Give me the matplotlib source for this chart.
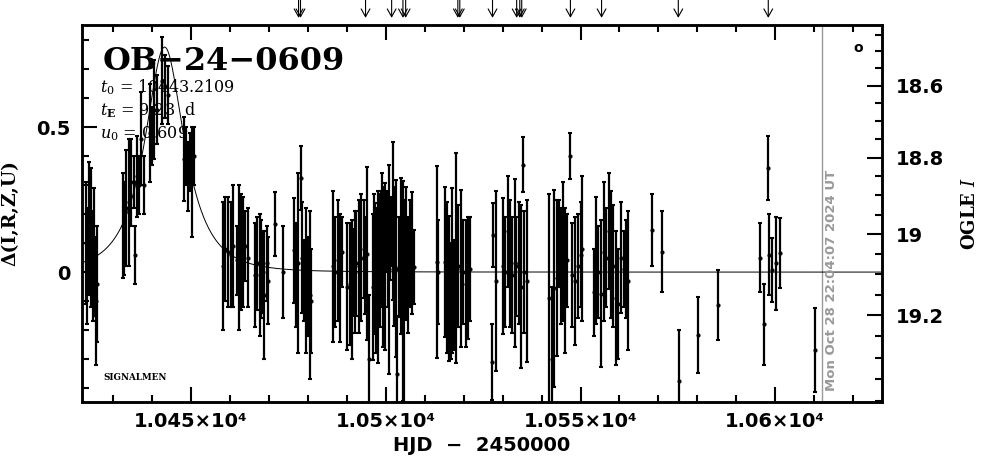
import numpy as np
import matplotlib
matplotlib.use("Agg")
import matplotlib.pyplot as plt
from matplotlib.ticker import MultipleLocator, FixedLocator

plt.rcParams['mathtext.fontset'] = 'dejavuserif'

# ---------------- data ----------------
event_name = "OB\u221224\u22120609"
t0, tE, u0 = 10443.2109, 9.23, 0.609
fs = 0.9

# time (HJD-2450000), delta flux, error
t_data = [
    # night cluster 1
    10423.0, 10423.3, 10423.7, 10424.4, 10424.8, 10425.2, 10425.6, 10425.9,
    # rising
    10432.4, 10432.9, 10433.4, 10434.0, 10434.6, 10435.3, 10435.7, 10436.1, 10436.7, 10437.2, 10437.8,
    # peak
    10439.5, 10439.9, 10440.6, 10441.2, 10442.5, 10443.4, 10444.0,
    # falling
    10448.3, 10448.7, 10449.2, 10449.7, 10450.3, 10450.8,
    # cluster 5
    10458.2, 10458.7, 10459.5, 10460.2, 10460.8, 10461.7, 10462.3, 10462.8, 10463.4, 10463.8, 10464.5,
    # cluster 6
    10466.5, 10467.0, 10467.6, 10468.0, 10468.5, 10468.7, 10469.4, 10469.8, 10471.5, 10473.6,
    # cluster 7
    10476.4, 10476.9, 10477.5, 10478.2, 10478.5, 10479.0, 10479.6, 10480.0, 10480.5, 10480.9,
    # cluster 8
    10486.4, 10486.9, 10487.6, 10488.2, 10488.7,
    # cluster 9
    10490.1, 10490.7, 10491.2, 10491.6, 10492.0, 10492.4, 10493.0, 10493.7, 10494.3,
    # cluster 10
    10494.6, 10495.3, 10495.8, 10496.8, 10497.2, 10497.6, 10498.0, 10498.5, 10498.9, 10499.3,
    10499.9, 10500.5, 10500.8, 10501.1, 10501.8, 10502.2, 10502.6, 10503.0, 10503.3, 10503.8,
    10504.4, 10504.8, 10505.2, 10505.8, 10506.2, 10506.8, 10507.2,
    10497.0, 10497.4, 10497.9, 10498.3, 10498.7, 10499.1, 10499.6, 10500.0, 10500.3, 10501.4, 10502.0,
    # cluster 11
    10513.2, 10513.4, 10515.3, 10515.8, 10516.2, 10516.7, 10517.1, 10517.4, 10517.9, 10518.5,
    10519.2, 10519.8, 10520.5, 10521.1, 10521.5, 10516.0, 10516.5, 10517.0, 10517.6,
    # cluster 12/13
    10527.3, 10527.5, 10528.3, 10530.0, 10530.5, 10531.4, 10531.8, 10532.4, 10533.1, 10533.5,
    10534.1, 10534.6, 10535.2, 10535.5, 10536.2,
    # cluster 14
    10542.0, 10542.6, 10543.3, 10544.0, 10544.4, 10545.0, 10545.5, 10546.1, 10546.6, 10547.2,
    10547.8, 10548.5, 10549.3, 10550.0, 10550.4,
    # cluster 15
    10553.4, 10554.0, 10554.6, 10555.3, 10555.9, 10556.6, 10557.2, 10557.8, 10558.4, 10559.1,
    10559.7, 10560.4, 10561.1, 10561.7, 10562.3,
    # late
    10568.3, 10571.0, 10575.2, 10580.2, 10585.2, 10596.2, 10597.2, 10598.2, 10598.4, 10599.2,
    10600.1, 10601.2, 10610.1,
]
d_data = [
    0.10, 0.02, 0.15, 0.12, 0.02, 0.07, -0.10, -0.04,
    0.16, 0.15, 0.22, 0.24, 0.31, 0.31, 0.06, 0.33, 0.30, 0.46, 0.30,
    0.48, 0.47, 0.56, 0.56, 0.66, 0.64, 0.61,
    0.39, 0.40, 0.33, 0.38, 0.31, 0.40,
    0.02, 0.08, 0.07, 0.06, 0.09, 0.04, 0.05, 0.07, 0.07, 0.09, 0.05,
    -0.01, 0.03, -0.01, 0.01, 0.00, -0.08, 0.03, -0.03, 0.165, 0.00,
    0.075, -0.01, 0.03, 0.325, 0.05, -0.03, -0.03, -0.05, -0.08, -0.10,
    0.02, 0.00, 0.04, -0.02, 0.07,
    -0.05, -0.04, -0.06, 0.00, 0.00, 0.03, 0.02, 0.05, 0.08,
    0.024, 0.064, -0.30, -0.051, 0.012, -0.04, -0.062, 0.024, 0.11, 0.018,
    0.018, 0.064, 0.01, 0.087, 0.176, 0.053, 0.012, -0.35, 0.018, 0.055,
    -0.065, -0.10, 0.064, -0.01, 0.064, 0.067, 0.018,
    0.15, 0.12, 0.17, 0.14, 0.18, 0.13, 0.16, 0.12, 0.17, 0.14, 0.10,
    0.035, 0.00, 0.035, -0.02, -0.056, -0.10, 0.04, -0.08, 0.047, 0.02,
    0.012, 0.00, -0.04, -0.02, 0.01, -0.10, -0.15, -0.12, -0.05,
    -0.31, 0.127, -0.03, 0.02, 0.00, 0.14, 0.03, -0.01, 0.03, 0.02,
    0.03, -0.05, 0.37, 0.00, -0.03,
    -0.09, -0.30, -0.056, -0.02, 0.10, 0.02, 0.07, -0.03, 0.04, 0.40,
    -0.01, -0.03, 0.02, 0.06, 0.08,
    -0.07, 0.04, 0.00, -0.074, 0.07, 0.05, 0.14, 0.06, 0.02, -0.09,
    -0.11, 0.05, 0.01, 0.01, -0.03,
    0.145, 0.07, -0.376, -0.217, -0.114, 0.05, -0.18, 0.36, 0.06, 0.007,
    0.03, 0.065, -0.27,
]
e_data = [
    0.21, 0.20, 0.23, 0.24, 0.19, 0.22, 0.22, 0.20,
    0.18, 0.16, 0.20, 0.22, 0.15, 0.09, 0.10, 0.14, 0.10, 0.16, 0.10,
    0.17, 0.10, 0.17, 0.12, 0.15, 0.11, 0.10,
    0.145, 0.10, 0.12, 0.10, 0.19, 0.10,
    0.22, 0.18, 0.19, 0.18, 0.21, 0.12, 0.25, 0.20, 0.19, 0.12, 0.17,
    0.18, 0.16, 0.21, 0.17, 0.14, 0.22, 0.13, 0.15, 0.11, 0.16,
    0.18, 0.18, 0.31, 0.11, 0.19, 0.14, 0.25, 0.17, 0.29, 0.18,
    0.26, 0.19, 0.21, 0.22, 0.12,
    0.22, 0.21, 0.24, 0.15, 0.21, 0.18, 0.23, 0.22, 0.17,
    0.167, 0.299, 0.22, 0.253, 0.225, 0.24, 0.253, 0.213, 0.23, 0.276,
    0.288, 0.184, 0.36, 0.115, 0.273, 0.24, 0.305, 0.20, 0.173, 0.268,
    0.38, 0.35, 0.23, 0.20, 0.184, 0.21, 0.127,
    0.12, 0.10, 0.11, 0.13, 0.10, 0.12, 0.10, 0.12, 0.11, 0.12, 0.13,
    0.33, 0.18, 0.26, 0.26, 0.25, 0.20, 0.25, 0.19, 0.362, 0.21,
    0.27, 0.18, 0.22, 0.21, 0.18, 0.15, 0.13, 0.16, 0.15,
    0.13, 0.11, 0.31, 0.235, 0.19, 0.19, 0.22, 0.20, 0.29, 0.17,
    0.21, 0.28, 0.095, 0.21, 0.28,
    0.36, 0.25, 0.34, 0.27, 0.15, 0.20, 0.24, 0.25, 0.16, 0.08,
    0.18, 0.22, 0.18, 0.18, 0.25,
    0.15, 0.22, 0.16, 0.253, 0.24, 0.17, 0.20, 0.22, 0.21, 0.23,
    0.19, 0.19, 0.13, 0.17, 0.24,
    0.125, 0.14, 0.176, 0.13, 0.12, 0.12, 0.14, 0.11, 0.14, 0.11,
    0.16, 0.12, 0.145,
]

arrow_times = [10477.6, 10478.1, 10494.8, 10501.5, 10504.4, 10505.1, 10518.5, 10519.0,
               10527.4, 10533.6, 10534.4, 10534.9, 10547.4, 10555.4, 10575.1, 10598.2]

mag_ticks = [18.6, 18.8, 19.0, 19.2]
mag_tick_labels = ["18.6", "18.8", "19", "19.2"]
xtick_vals = [10450, 10500, 10550, 10600]
xtick_labels = ["1.045\u00d710\u2074", "1.05\u00d710\u2074", "1.055\u00d710\u2074", "1.06\u00d710\u2074"]
now_time = 10612.0
date_text = "Mon Oct 28 22:04:07 2024 UT"

xlim = (10422.0, 10627.4)
ylim = (-0.448, 0.852)


def mag_to_delta(m):
    x = np.asarray(m) - 19.0
    return 0.131 - 1.36 * x - 0.2 * x ** 2


def model(t):
    u = np.sqrt(u0 ** 2 + ((t - t0) / tE) ** 2)
    A = (u ** 2 + 2) / (u * np.sqrt(u ** 2 + 4))
    return fs * (A - 1)


# ---------------- figure ----------------
fig = plt.figure(figsize=(9.86, 4.59), dpi=100)
ax = fig.add_axes([82 / 986, 57 / 459, 800 / 986, 377 / 459])
ax.set_xlim(*xlim)
ax.set_ylim(*ylim)

tm = np.linspace(xlim[0], xlim[1], 2000)
ax.plot(tm, model(tm), color='black', lw=0.7, zorder=2)

ax.errorbar(t_data, d_data, yerr=e_data, fmt='o', color='black', ms=2.0,
            elinewidth=1.6, capsize=1.5, capthick=1.5, zorder=3)

ax.axvline(now_time, color='#999999', lw=1.0, zorder=1)
ax.text(0.937, 0.03, date_text, transform=ax.transAxes, rotation=90,
        ha='center', va='bottom', color='#999999', fontsize=9.5,
        fontweight='bold', family='DejaVu Sans')

# arrows above
for ta in arrow_times:
    ax.annotate('', xy=(ta, 1.019), xytext=(ta, 1.068),
                xycoords=ax.get_xaxis_transform(),
                textcoords=ax.get_xaxis_transform(),
                arrowprops=dict(arrowstyle='->,head_length=0.8,head_width=0.45',
                                lw=0.8, color='black', mutation_scale=7,
                                shrinkA=0, shrinkB=0),
                annotation_clip=False)

# texts
ax.text(0.026, 0.881, event_name, transform=ax.transAxes, fontsize=23,
        fontweight='bold', family='DejaVu Serif', va='baseline')
ax.text(0.022, 0.822, r"$t_0$ = 10443.2109", transform=ax.transAxes,
        fontsize=11.5, family='DejaVu Serif', va='baseline')
ax.text(0.022, 0.761, r"$t_\mathbf{E}$ = 9.23  d", transform=ax.transAxes,
        fontsize=11.5, family='DejaVu Serif', va='baseline')
ax.text(0.022, 0.700, r"$u_0$ = 0.609", transform=ax.transAxes,
        fontsize=11.5, family='DejaVu Serif', va='baseline')
ax.text(0.027, 0.058, "SIGNALMEN", transform=ax.transAxes, fontsize=6.3,
        fontweight='bold', family='DejaVu Serif', va='baseline')
ax.text(0.97, 0.938, "o", transform=ax.transAxes, fontsize=10,
        fontweight='bold', ha='center', va='center')

# axes styling
for sp in ax.spines.values():
    sp.set_linewidth(1.8)

ax.xaxis.set_major_locator(FixedLocator(xtick_vals))
ax.set_xticklabels(xtick_labels, fontweight='bold')
ax.xaxis.set_minor_locator(MultipleLocator(10))
ax.yaxis.set_major_locator(FixedLocator([0, 0.5]))
ax.set_yticklabels(["0", "0.5"], fontweight='bold')
ax.yaxis.set_minor_locator(MultipleLocator(0.1))
ax.tick_params(axis='x', which='both', direction='in', top=True, bottom=True,
               labelsize=14, width=1.5, pad=7)
ax.tick_params(axis='y', which='both', direction='in', left=True, right=False,
               labelsize=14, width=1.5, pad=8)
ax.tick_params(which='major', length=11)
ax.tick_params(which='minor', length=5)

ax.set_xlabel("HJD  \u2212  2450000", fontsize=14, fontweight='bold', labelpad=4)
ax.set_ylabel("\u0394(I,R,Z,U)", fontsize=13.5, family='DejaVu Serif',
              fontweight='bold', labelpad=12)

ax2 = ax.twinx()
ax2.set_ylim(*ylim)
ax2.yaxis.set_major_locator(FixedLocator(mag_to_delta(mag_ticks)))
ax2.set_yticklabels(mag_tick_labels, fontweight='bold')
minor_mags = np.arange(18.45, 19.41, 0.05)
ax2.yaxis.set_minor_locator(FixedLocator(mag_to_delta(minor_mags)))
ax2.tick_params(axis='y', which='both', direction='in', labelsize=14,
                width=1.5, pad=10)
ax2.tick_params(which='major', length=11)
ax2.tick_params(which='minor', length=5)
for sp in ax2.spines.values():
    sp.set_linewidth(1.8)
ax2.set_ylabel("OGLE $I$", fontsize=13, family='DejaVu Serif',
               fontweight='bold', rotation=90, labelpad=12)

fig.savefig("out.png", dpi=100)
